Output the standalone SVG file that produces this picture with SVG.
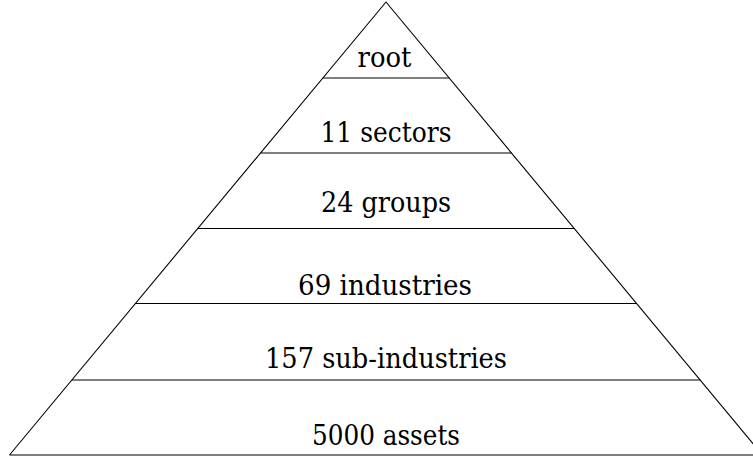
<svg xmlns="http://www.w3.org/2000/svg" width="753" height="456" viewBox="0 0 753 456">
  <style>
    .edge { fill: none; stroke: #000; stroke-width: 1.1; stroke-linejoin: miter; }
    .tier { stroke: #000; stroke-width: 1.2; }
    .label { font-family: 'DejaVu Serif', 'Liberation Serif', 'Times New Roman', serif; font-size: 27px; fill: #000; text-anchor: middle; }
  </style>
  <rect width="753" height="456" fill="#fff"/>

  <!-- outer pyramid outline and tier dividers -->
  <g id="connectors">
    <polyline class="edge" points="9.5,455 386,2 762.5,455"/>
    <line class="tier" x1="9.5" y1="455" x2="753" y2="455"/>
    <line class="tier" x1="322.8" y1="78" x2="449.2" y2="78"/>
    <line class="tier" x1="260.5" y1="153" x2="511.5" y2="153"/>
    <line class="tier" x1="197.8" y1="228.5" x2="574.2" y2="228.5"/>
    <line class="tier" x1="135" y1="303.5" x2="637" y2="303.5"/>
    <line class="tier" x1="71.8" y1="380" x2="700.2" y2="380"/>
  </g>

  <g id="level-root">
    <text class="label" x="384.5" y="66.5" textLength="54" lengthAdjust="spacingAndGlyphs">root</text>
  </g>
  <g id="level-sectors">
    <text class="label" x="386" y="142" textLength="131" lengthAdjust="spacingAndGlyphs">11 sectors</text>
  </g>
  <g id="level-groups">
    <text class="label" x="386" y="212" textLength="130" lengthAdjust="spacingAndGlyphs">24 groups</text>
  </g>
  <g id="level-industries">
    <text class="label" x="385" y="295" textLength="174" lengthAdjust="spacingAndGlyphs">69 industries</text>
  </g>
  <g id="level-sub-industries">
    <text class="label" x="386" y="368" textLength="242" lengthAdjust="spacingAndGlyphs">157 sub-industries</text>
  </g>
  <g id="level-assets">
    <text class="label" x="386" y="445" textLength="148" lengthAdjust="spacingAndGlyphs">5000 assets</text>
  </g>
</svg>
